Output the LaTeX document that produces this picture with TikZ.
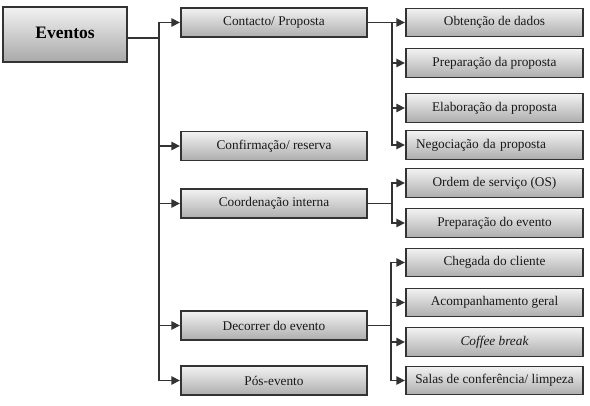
\documentclass[tikz,border=0pt]{standalone}
\usepackage{fontspec}
\setmainfont{Liberation Serif}
\usetikzlibrary{arrows.meta}
\tikzset{
  box/.style={draw=black!80, line width=1.3pt, top color=black!5, bottom color=black!32,
    inner sep=0pt, font=\fontsize{13.3}{15}\selectfont, text=black!90},
  lvlone/.style={box, minimum width=186pt, minimum height=29pt},
  lvltwo/.style={box, minimum width=177pt, minimum height=28.5pt},
  conn/.style={draw=black!80, line width=1.3pt},
  arr/.style={conn, -{Triangle[length=8.5pt,width=8.5pt]}, shorten >=0.5pt},
}
\begin{document}
\begin{tikzpicture}[x=1pt,y=-1pt]
\useasboundingbox (0,0) rectangle (590,406);
\node[box, minimum width=124pt, minimum height=55pt, top color=black!5, bottom color=black!34,
  font=\fontsize{17.5}{20}\selectfont\bfseries, text=black] (ev) at (65,34.5) {\raisebox{4pt}{Eventos}};

\node[lvlone] (con) at (274,22.5) {Contacto/ Proposta};
\node[lvlone] (cnf) at (274,146) {Confirmação/ reserva};
\node[lvlone] (coo) at (274,203.5) {Coordenação interna};
\node[lvlone] (dec) at (274,325.5) {Decorrer do evento};
\node[lvlone] (pos) at (274,380.5) {Pós-evento};

\node[lvltwo] (obt) at (494.5,22.5) {Obtenção de dados};
\node[lvltwo] (ppr) at (494.5,63) {Preparação da proposta};
\node[lvltwo] (ela) at (494.5,108) {Elaboração da proposta};
\node[lvltwo, text width=177pt, align=left] (neg) at (494.5,145) {\hspace*{10pt}Negociação da proposta};
\node[lvltwo] (ord) at (494.5,183) {Ordem de serviço (OS)};
\node[lvltwo] (pev) at (494.5,223) {Preparação do evento};
\node[lvltwo] (che) at (494.5,262.5) {Chegada do cliente};
\node[lvltwo] (aco) at (494.5,302.5) {Acompanhamento geral};
\node[lvltwo] (cof) at (494.5,342) {\itshape Coffee break};
\node[lvltwo] (sal) at (494.5,380.5) {Salas de conferência/ limpeza};

\coordinate (t0) at (159,38);
\coordinate (t1) at (392,22.5);
\coordinate (t2) at (392,203.5);
\coordinate (t3) at (391,325.5);

\draw[conn] (ev.east |- t0) -- (t0);
\foreach \n in {con,cnf,coo,dec,pos} \draw[arr] (t0) |- (\n.west);

\draw[conn] (con.east) -- (t1);
\foreach \n in {obt,ppr,ela,neg} \draw[arr] (t1) |- (\n.west);

\draw[conn] (coo.east) -- (t2);
\foreach \n in {ord,pev} \draw[arr] (t2) |- (\n.west);

\draw[conn] (dec.east) -- (t3);
\foreach \n in {che,aco,cof,sal} \draw[arr] (t3) |- (\n.west);
\end{tikzpicture}
\end{document}
